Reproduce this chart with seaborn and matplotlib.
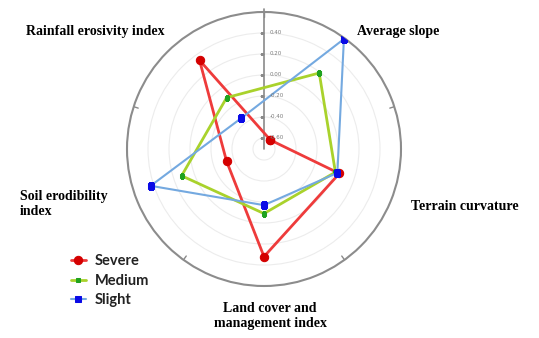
import numpy as np
import pandas as pd
import matplotlib
matplotlib.use("Agg")
import matplotlib.pyplot as plt
import seaborn as sns

# Factors around the radar, clockwise from the upper right
factors = ["Average slope", "Terrain curvature", "Land cover and\nmanagement index",
           "Soil erodibility\nindex", "Rainfall erosivity index"]

# Correlation values per erosion class
severe = [-0.60, 0.05, 0.32, -0.33, 0.34]
medium = [0.19, 0.01, -0.09, 0.12, -0.10]
slight = [0.59, 0.03, -0.17, 0.43, -0.34]

series_names = ["Severe", "Medium", "Slight"]
radial_ticks = [-0.60, -0.40, -0.20, 0.00, 0.20, 0.40]
radial_tick_labels = ["-0.60", "-0.40", "-0.20", "0.00", "0.20", "0.40"]
r_min, r_max = -0.705, 0.60

sns.set_theme(style="white")
plt.rcParams["font.family"] = ["DejaVu Sans"]

W, H = 539, 338
fig = plt.figure(figsize=(W / 100, H / 100), dpi=100)
cx, cy, R = 264, 149, 137
ax = fig.add_axes([(cx - R) / W, (H - cy - R) / H, 2 * R / W, 2 * R / H], projection="polar")
ax.set_theta_zero_location("N")
ax.set_theta_direction(-1)
ax.set_ylim(r_min, r_max)

# category angles sit halfway between the angular ticks
n = len(factors)
cat_angles = np.deg2rad(36 + 72 * np.arange(n))

rows = []
for name, vals in zip(series_names, [severe, medium, slight]):
    for i in list(range(n)) + [0]:
        rows.append({"series": name, "theta": cat_angles[i], "value": vals[i]})
df = pd.DataFrame(rows)

styles = {
    "Severe": dict(color="#ee3b3b", marker="o", ms=6, mfc="#d40000", mec="#d40000", lw=2.0),
    "Medium": dict(color="#a9d22c", marker="s", ms=3.5, mfc="#1fa21f", mec="#1fa21f", lw=2.0),
    "Slight": dict(color="#74a9e0", marker="s", ms=4.2, mfc="#0a0ae6", mec="#0a0ae6", lw=1.5),
}
for name in series_names:
    st = styles[name]
    sns.lineplot(data=df[df["series"] == name], x="theta", y="value", sort=False, estimator=None,
                 ax=ax, color=st["color"], lw=st["lw"], marker=st["marker"], markersize=st["ms"],
                 markerfacecolor=st["mfc"], markeredgecolor=st["mec"], label=name, zorder=3)

ax.set_xlabel("")
ax.set_ylabel("")

# no angular labels or spokes; short ticks on the outer ring instead
ax.set_xticks([])
ax.xaxis.grid(False)
for a in np.deg2rad(72 * np.arange(5)):
    ax.plot([a, a], [r_max - 0.045, r_max], color="#8a8a8a", lw=1, zorder=2)

# faint concentric rings
ax.set_yticks(radial_ticks)
ax.set_yticklabels([])
ax.yaxis.grid(True, color="#ececec", lw=0.8)
ax.spines["polar"].set_color("#8c8c8c")
ax.spines["polar"].set_linewidth(1.5)

# vertical value axis with its own small labels
ax.plot([0, 0], [r_min, r_max + 0.03], color="#8a8a8a", lw=1.2, clip_on=False, zorder=2)
for v, lab in zip(radial_ticks, radial_tick_labels):
    ax.plot([0], [v], marker=0, ms=3, color="#8a8a8a", mew=0.8, zorder=2)
    ax.annotate(lab, xy=(0, v), xytext=(4, 0), textcoords="offset points",
                ha="left", va="center", fontsize=4, color="#7a7a7a")

# factor labels around the chart
lab_kw = dict(family=["Liberation Serif", "DejaVu Serif"], weight="bold", fontsize=10, color="black")
fig.text(398 / W, 1 - 31 / H, factors[0], ha="center", va="center", **lab_kw)
fig.text(465 / W, 1 - 207 / H, factors[1], ha="center", va="center", **lab_kw)
fig.text(270 / W, 1 - 316 / H, factors[2], ha="center", va="center", linespacing=1.25, **lab_kw)
fig.text(20 / W, 1 - 204 / H, factors[3], ha="left", va="center", linespacing=1.25, **lab_kw)
fig.text(95 / W, 1 - 31 / H, factors[4], ha="center", va="center", **lab_kw)

leg = ax.legend(loc="upper left", bbox_to_anchor=(58 / W, 1 - 241 / H), bbox_transform=fig.transFigure,
                frameon=False, handlelength=1.0, handletextpad=0.6, labelspacing=0.38,
                prop={"family": ["Lato", "DejaVu Sans"], "weight": "bold", "size": 10.5})
for t in leg.get_texts():
    t.set_color("#222222")

fig.savefig("out.png", dpi=100, facecolor="white")
